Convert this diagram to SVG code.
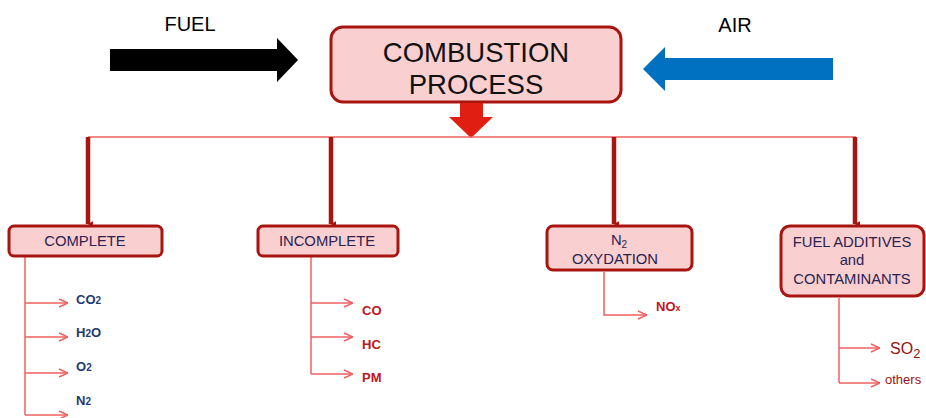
<svg xmlns="http://www.w3.org/2000/svg" width="926" height="418" viewBox="0 0 926 418">
  <defs>
    <style>
      .box { fill: #f9cfcf; stroke: #a8140f; stroke-width: 3; }
      .main { fill: #f9cfcf; stroke: #a8140f; stroke-width: 3; }
      .lbl { font-family: "Liberation Sans", Arial, sans-serif; fill: #2a2250; text-anchor: middle; font-size: 14.8px; }
      .title { font-family: "Liberation Sans", Arial, sans-serif; fill: #111; text-anchor: middle; font-size: 27.5px; }
      .drop { stroke: #a8140f; stroke-width: 4.5; fill: none; }
      .bus { stroke: #f06060; stroke-width: 1.5; fill: none; }
      .br { stroke: #f06060; stroke-width: 1.5; fill: none; marker-end: url(#open); }
      .prod-b { font-family: "Liberation Sans", Arial, sans-serif; font-weight: bold; font-size: 13px; fill: #1f3a73; }
      .prod-r { font-family: "Liberation Sans", Arial, sans-serif; font-weight: bold; font-size: 13px; fill: #c0141c; }
      .prod-d { font-family: "Liberation Sans", Arial, sans-serif; fill: #9a1010; }
    </style>
    <marker id="open" viewBox="0 0 10 10" refX="10" refY="5" markerWidth="10" markerHeight="10" markerUnits="userSpaceOnUse" orient="auto">
      <path d="M1,1 L10,5 L1,9" fill="none" stroke="#f06060" stroke-width="1.5"/>
    </marker>
    <marker id="tip" viewBox="0 0 10 10" refX="5" refY="9" markerWidth="9" markerHeight="6" markerUnits="userSpaceOnUse" orient="auto">
      <path d="M0,0 L10,0 L5,10 Z" fill="#a8140f"/>
    </marker>
  </defs>

  <!-- inputs -->
  <g id="fuel">
    <text x="190" y="31" font-family="Liberation Sans, Arial, sans-serif" font-size="20" text-anchor="middle" fill="#000">FUEL</text>
    <path d="M110,49 H277 V38 L298,60 L277,82 V71 H110 Z" fill="#000"/>
  </g>
  <g id="air">
    <text x="735" y="32" font-family="Liberation Sans, Arial, sans-serif" font-size="20" text-anchor="middle" fill="#000">AIR</text>
    <path d="M833,58 H665 V47 L643,69 L665,91 V80 H833 Z" fill="#0070c0"/>
  </g>

  <!-- central process -->
  <g id="combustion">
    <rect class="main" x="331" y="27" width="290" height="75" rx="12"/>
    <text class="title" x="476" y="62">COMBUSTION</text>
    <text class="title" x="476" y="94">PROCESS</text>
    <path d="M460,103 H483 V117 H493 L471,138 L449,117 H460 Z" fill="#e01f12"/>
  </g>

  <!-- connectors -->
  <g id="connectors">
    <line class="bus" x1="88" y1="137" x2="856" y2="137"/>
    <line class="drop" x1="88" y1="137" x2="88" y2="224" marker-end="url(#tip)"/>
    <line class="drop" x1="331" y1="137" x2="331" y2="224" marker-end="url(#tip)"/>
    <line class="drop" x1="614" y1="137" x2="614" y2="224" marker-end="url(#tip)"/>
    <line class="drop" x1="855" y1="137" x2="855" y2="224" marker-end="url(#tip)"/>

    <path class="bus" d="M25,257 V415"/>
    <path class="br" d="M25,303 H68"/>
    <path class="br" d="M25,337 H68"/>
    <path class="br" d="M25,373 H68"/>
    <path class="br" d="M25,415 H68"/>

    <path class="bus" d="M311,257 V374"/>
    <path class="br" d="M311,303 H353"/>
    <path class="br" d="M311,337 H353"/>
    <path class="br" d="M311,374 H353"/>

    <path class="br" d="M604,272 V315 H647"/>

    <path class="bus" d="M839,298 V383"/>
    <path class="br" d="M839,348 H880"/>
    <path class="br" d="M839,383 H880"/>
  </g>

  <!-- outcome categories -->
  <g id="complete">
    <rect class="box" x="9" y="226" width="153" height="30" rx="5"/>
    <text class="lbl" x="85" y="246">COMPLETE</text>
  </g>
  <g id="incomplete">
    <rect class="box" x="258" y="226" width="140" height="30" rx="5"/>
    <text class="lbl" x="327" y="246">INCOMPLETE</text>
  </g>
  <g id="n2-oxydation">
    <rect class="box" x="547" y="226" width="145" height="44" rx="6"/>
    <text class="lbl" x="619" y="245">N<tspan font-size="10" dy="3">2</tspan></text>
    <text class="lbl" x="615" y="264">OXYDATION</text>
  </g>
  <g id="fuel-additives">
    <rect class="box" x="781" y="226" width="143" height="70" rx="9"/>
    <text class="lbl" x="852" y="247">FUEL ADDITIVES</text>
    <text class="lbl" x="852" y="265">and</text>
    <text class="lbl" x="852" y="284">CONTAMINANTS</text>
  </g>

  <!-- products -->
  <g id="products">
    <text class="prod-b" x="76" y="304">CO<tspan font-size="10">2</tspan></text>
    <text class="prod-b" x="76" y="337">H<tspan font-size="10">2</tspan>O</text>
    <text class="prod-b" x="76" y="371">O<tspan font-size="10">2</tspan></text>
    <text class="prod-b" x="76" y="405">N<tspan font-size="10">2</tspan></text>

    <text class="prod-r" x="362" y="315">CO</text>
    <text class="prod-r" x="362" y="349">HC</text>
    <text class="prod-r" x="362" y="382">PM</text>

    <text class="prod-r" x="656" y="311">NO<tspan font-size="9">x</tspan></text>

    <text class="prod-d" x="890" y="354" font-size="16">SO<tspan font-size="13" dy="4">2</tspan></text>
    <text class="prod-d" x="885" y="384" font-size="13">others</text>
  </g>
</svg>
